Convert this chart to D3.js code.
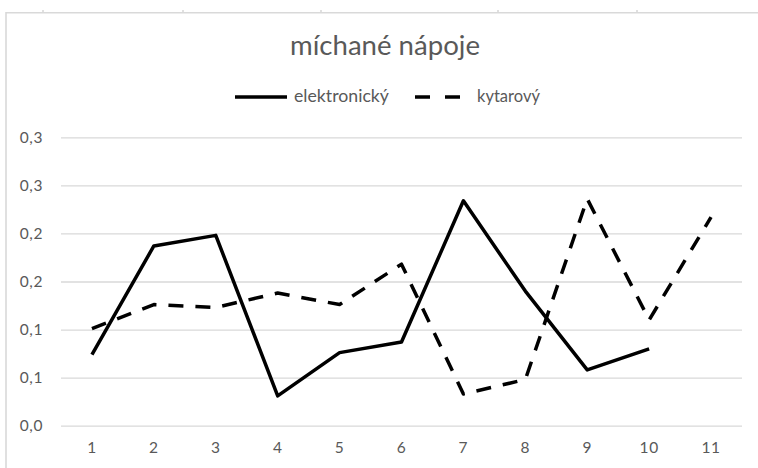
<!DOCTYPE html>
<html>
<head>
<meta charset="utf-8">
<script src="https://cdn.jsdelivr.net/npm/d3@7/dist/d3.min.js"></script>
<style>
  html, body { margin: 0; padding: 0; background: #fff; }
  svg { display: block; }
  text { font-family: Lato, "Open Sans", sans-serif; fill: #595959; }
</style>
</head>
<body>
<svg id="chart" width="758" height="468"></svg>
<script>
// Categories along the x axis
const categories = [1, 2, 3, 4, 5, 6, 7, 8, 9, 10, 11];

// Series values (share, 0–0.3)
const elektronicky = [0.074, 0.187, 0.198, 0.031, 0.076, 0.087, 0.234, 0.140, 0.058, 0.080];
const kytarovy     = [0.101, 0.126, 0.123, 0.138, 0.126, 0.168, 0.033, 0.048, 0.236, 0.110, 0.217];

// Y axis ticks and their one-decimal labels
const yTickValues = [0, 0.05, 0.10, 0.15, 0.20, 0.25, 0.30];
const yTickLabels = ["0,0", "0,1", "0,1", "0,2", "0,2", "0,3", "0,3"];

const seriesNames = ["elektronický", "kytarový"];
const title = "míchané nápoje";

// Column markers of the surrounding sheet above the chart frame
const sheetMarks = [43, 183, 321, 498, 637];

const svg = d3.select("#chart");
const W = 758, H = 468;
const plot = { left: 61, right: 742, top: 137.3, bottom: 425.7 };

const x = d3.scaleBand().domain(categories).range([plot.left, plot.right]).padding(0);
const y = d3.scaleLinear().domain([0, 0.3]).range([plot.bottom, plot.top]);
const cx = d => x(d) + x.bandwidth() / 2;

// scale a text's font size so it spans the given width
function fitWidth(node, target) {
  const w = node.node().getComputedTextLength();
  const fs = parseFloat(node.style("font-size"));
  node.style("font-size", (fs * target / w) + "px");
}

// Chart frame
const frameColor = "#d9d9d9";
svg.append("line").attr("x1", 6).attr("x2", W).attr("y1", 12.7).attr("y2", 12.7)
  .attr("stroke", frameColor).attr("stroke-width", 1.6);
svg.append("line").attr("x1", 6).attr("x2", 6).attr("y1", 12).attr("y2", H)
  .attr("stroke", frameColor).attr("stroke-width", 1.6);
svg.selectAll("line.sheet").data(sheetMarks).join("line").attr("class", "sheet")
  .attr("x1", d => d).attr("x2", d => d).attr("y1", 10).attr("y2", 12)
  .attr("stroke", "#d0d0d0").attr("stroke-width", 1.3);

// Title
const titleText = svg.append("text")
  .attr("x", 385).attr("y", 55).attr("text-anchor", "middle")
  .style("font-size", "24px").text(title);
fitWidth(titleText, 190);

// Gridlines + y axis
const yAxis = d3.axisLeft(y)
  .tickValues(yTickValues)
  .tickFormat((d, i) => yTickLabels[i])
  .tickSize(-(plot.right - plot.left))
  .tickPadding(18);
const gy = svg.append("g").attr("transform", `translate(${plot.left},0)`).call(yAxis);
gy.select(".domain").remove();
gy.selectAll(".tick line").attr("stroke", frameColor).attr("stroke-width", 1.3);
gy.selectAll(".tick text").style("font-size", "15.5px").style("font-family", "Lato, 'Open Sans', sans-serif")
  .attr("fill", "#595959").style("letter-spacing", "0.6px");

// X axis labels
const xAxis = d3.axisBottom(x).tickSize(0).tickPadding(16);
const gx = svg.append("g").attr("transform", `translate(0,${plot.bottom})`).call(xAxis);
gx.select(".domain").remove();
gx.selectAll(".tick text").style("font-size", "15.5px").style("font-family", "Lato, 'Open Sans', sans-serif")
  .attr("fill", "#595959").style("letter-spacing", "0.6px");

// Lines
const line = d3.line().x((d, i) => cx(categories[i])).y(d => y(d));
svg.append("path").datum(elektronicky).attr("d", line)
  .attr("fill", "none").attr("stroke", "#000").attr("stroke-width", 3.5)
  .attr("stroke-linejoin", "round");
svg.append("path").datum(kytarovy).attr("d", line)
  .attr("fill", "none").attr("stroke", "#000").attr("stroke-width", 3.5)
  .attr("stroke-dasharray", "15,12").attr("stroke-linejoin", "round");

// Legend
const lg = svg.append("g");
lg.append("line").attr("x1", 235).attr("x2", 287).attr("y1", 97).attr("y2", 97)
  .attr("stroke", "#000").attr("stroke-width", 3.5);
const l1 = lg.append("text").attr("x", 294).attr("y", 102).style("font-size", "14px").text(seriesNames[0]);
fitWidth(l1, 95);
lg.append("line").attr("x1", 415).attr("x2", 460).attr("y1", 97).attr("y2", 97)
  .attr("stroke", "#000").attr("stroke-width", 3.5).attr("stroke-dasharray", "15,15");
const l2 = lg.append("text").attr("x", 477).attr("y", 102).style("font-size", "14px").text(seriesNames[1]);
fitWidth(l2, 63);
</script>
</body>
</html>
